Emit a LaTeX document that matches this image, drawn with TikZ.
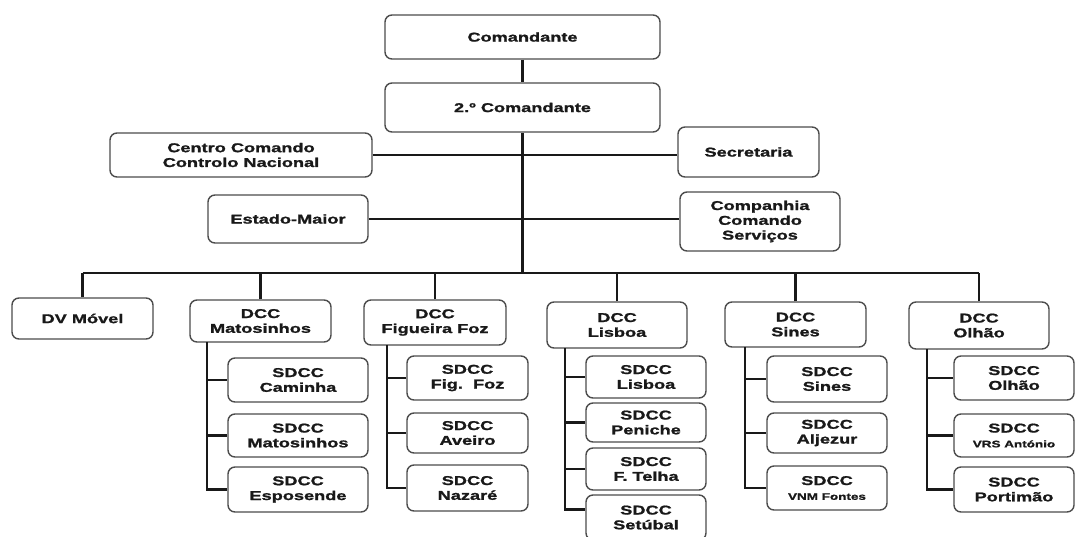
\documentclass[tikz,border=0pt]{standalone}
\usepackage{fontspec}
\setmainfont{Liberation Sans}[FakeStretch=1.42, BoldFeatures={FakeBold=1.3}]
\begin{document}
\begin{tikzpicture}[x=1pt,y=-1pt,
  box/.style={draw=black!70, line width=1.4pt, rounded corners=7pt, fill=white,
    align=center, inner sep=1pt, text=black!90,
    font=\fontsize{12.8}{14.8}\selectfont\bfseries},
  small/.style={font=\fontsize{9.5}{14.5}\selectfont\bfseries},
  conn/.style={line width=2.4pt, black!90}]
\useasboundingbox (0,0) rectangle (1076,536);
% top
\node[box, minimum width=275pt, minimum height=44pt] (cmd) at (522.5,37) {Comandante};
\node[box, minimum width=275pt, minimum height=49pt] (cmd2) at (522.5,107.5) {2.º Comandante};
\node[box, minimum width=262pt, minimum height=44pt] (cccn) at (241,155) {Centro Comando\\Controlo Nacional};
\node[box, minimum width=141pt, minimum height=50pt] (secr) at (748.5,152) {Secretaria};
\node[box, minimum width=160pt, minimum height=48pt] (estm) at (288,219) {Estado-Maior};
\node[box, minimum width=160pt, minimum height=59pt] (comp) at (760,221.5) {Companhia\\Comando\\Serviços};
\coordinate (bus) at (522.5,273);
% level 2
\node[box, minimum width=141pt, minimum height=41pt] (dv) at (82.5,318.5) {DV Móvel};
\node[box, minimum width=141pt, minimum height=42pt] (dm) at (260.5,321) {DCC\\Matosinhos};
\node[box, minimum width=142pt, minimum height=45pt] (df) at (435,322.5) {DCC\\Figueira Foz};
\node[box, minimum width=140pt, minimum height=46pt] (dl) at (617,325) {DCC\\Lisboa};
\node[box, minimum width=141pt, minimum height=45pt] (ds) at (795.5,324.5) {DCC\\Sines};
\node[box, minimum width=140pt, minimum height=47pt] (do) at (979,325.5) {DCC\\Olhão};
% Matosinhos column
\node[box, minimum width=140pt, minimum height=44pt] (m1) at (298,380) {SDCC\\Caminha};
\node[box, minimum width=140pt, minimum height=43pt] (m2) at (298,435.5) {SDCC\\Matosinhos};
\node[box, minimum width=140pt, minimum height=45pt] (m3) at (298,489.5) {SDCC\\Esposende};
% Figueira column
\node[box, minimum width=121pt, minimum height=44pt] (f1) at (467.5,378) {SDCC\\Fig.~~Foz};
\node[box, minimum width=121pt, minimum height=40pt] (f2) at (467.5,433) {SDCC\\Aveiro};
\node[box, minimum width=121pt, minimum height=46pt] (f3) at (467.5,488) {SDCC\\Nazaré};
% Lisboa column
\node[box, minimum width=120pt, minimum height=42pt] (l1) at (646,377) {SDCC\\Lisboa};
\node[box, minimum width=120pt, minimum height=39pt] (l2) at (646,422.5) {SDCC\\Peniche};
\node[box, minimum width=120pt, minimum height=42pt] (l3) at (646,469) {SDCC\\F. Telha};
\node[box, minimum width=120pt, minimum height=45pt] (l4) at (646,517.5) {SDCC\\Setúbal};
% Sines column
\node[box, minimum width=120pt, minimum height=46pt] (s1) at (827,379) {SDCC\\Sines};
\node[box, minimum width=120pt, minimum height=40pt] (s2) at (827,433) {SDCC\\Aljezur};
\node[box, minimum width=120pt, minimum height=44pt] (s3) at (827,488) {SDCC\\{\fontsize{9.5}{14.8}\selectfont VNM Fontes}};
% Olhao column
\node[box, minimum width=120pt, minimum height=44pt] (o1) at (1014,378) {SDCC\\Olhão};
\node[box, minimum width=120pt, minimum height=43pt] (o2) at (1014,435.5) {SDCC\\{\fontsize{9.5}{14.8}\selectfont VRS António}};
\node[box, minimum width=120pt, minimum height=45pt] (o3) at (1014,489.5) {SDCC\\Portimão};
% column coordinates
\coordinate (mc) at (207,342);
\coordinate (fc) at (387,345);
\coordinate (lc) at (565,348);
\coordinate (sc) at (745,347);
\coordinate (oc) at (927,349);
% connectors
\draw[conn] (cmd.south) -- (cmd2.north);
\draw[conn] (cmd2.south) -- (bus);
\draw[conn] (cccn.east) -- (cccn.east -| secr.west);
\draw[conn] (estm.east) -- (estm.east -| comp.west);
\draw[conn] (dv.north |- bus) -- (do.north |- bus);
\foreach \n in {dv,dm,df,dl,ds,do} \draw[conn] (\n.north) -- (\n.north |- bus);
\draw[conn] (mc) |- (m3.west);
\foreach \n in {m1,m2} \draw[conn] (mc |- \n.west) -- (\n.west);
\draw[conn] (fc) |- (f3.west);
\foreach \n in {f1,f2} \draw[conn] (fc |- \n.west) -- (\n.west);
\draw[conn] (lc) |- ([yshift=8pt]l4.west);
\foreach \n in {l1,l2,l3} \draw[conn] (lc |- \n.west) -- (\n.west);
\draw[conn] (sc) |- (s3.west);
\foreach \n in {s1,s2} \draw[conn] (sc |- \n.west) -- (\n.west);
\draw[conn] (oc) |- (o3.west);
\foreach \n in {o1,o2} \draw[conn] (oc |- \n.west) -- (\n.west);
\end{tikzpicture}
\end{document}
